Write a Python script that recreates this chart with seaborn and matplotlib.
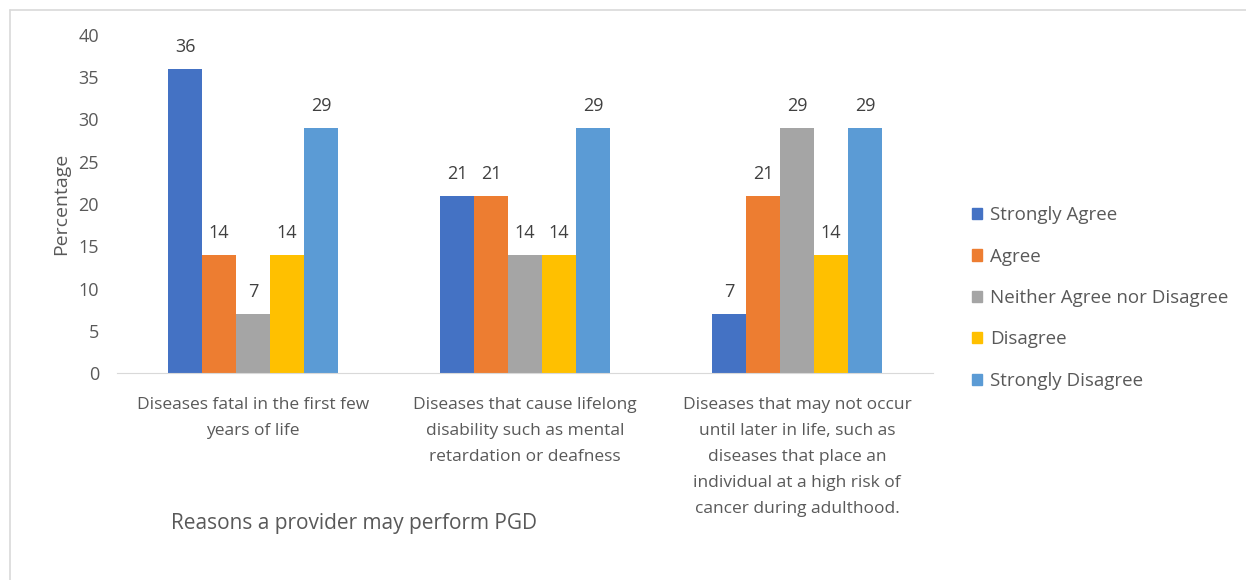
import matplotlib
matplotlib.use('Agg')
import matplotlib.pyplot as plt
import seaborn as sns
import pandas as pd
from matplotlib.lines import Line2D

# categories and answer levels
categories = [
    "Diseases fatal in the first few\nyears of life",
    "Diseases that cause lifelong\ndisability such as mental\nretardation or deafness",
    "Diseases that may not occur\nuntil later in life, such as\ndiseases that place an\nindividual at a high risk of\ncancer during adulthood.",
]
responses = ["Strongly Agree", "Agree", "Neither Agree nor Disagree", "Disagree", "Strongly Disagree"]
strongly_agree = [36, 21, 7]
agree = [14, 21, 21]
neither = [7, 14, 29]
disagree = [14, 14, 14]
strongly_disagree = [29, 29, 29]
colors = ["#4472C4", "#ED7D31", "#A5A5A5", "#FFC000", "#5B9BD5"]

series = [strongly_agree, agree, neither, disagree, strongly_disagree]
rows = []
for r, vals in zip(responses, series):
    for c, v in zip(categories, vals):
        rows.append({"cat": c, "resp": r, "pct": v})
df = pd.DataFrame(rows)

sns.set_style("white")
plt.rcParams['font.family'] = ['Open Sans', 'DejaVu Sans']
txt = "#595959"

fig = plt.figure(figsize=(12.46, 5.8), dpi=100)
ax = fig.add_axes([117 / 1246, 1 - 373 / 580, (933 - 117) / 1246, (373 - 35) / 580])

sns.barplot(data=df, x="cat", y="pct", hue="resp", order=categories, hue_order=responses,
            palette=colors, width=0.625, gap=0, saturation=1, linewidth=0, ax=ax, legend=False)

for cont in ax.containers:
    ax.bar_label(cont, padding=9, fontsize=13, color="#404040")

ax.set_ylim(0, 40)
ax.set_xlim(-0.5, 2.5)
ax.set_yticks(range(0, 41, 5))
ax.tick_params(axis='both', length=0, labelsize=12.5, colors=txt)
ax.tick_params(axis='y', labelsize=13, pad=13)
ax.tick_params(axis='x', pad=17)
for lab in ax.get_xticklabels():
    lab.set_linespacing(1.85)
ax.set_xlabel("")
ax.set_ylabel("Percentage", fontsize=14, color=txt, labelpad=6)
for s in ["top", "right", "left"]:
    ax.spines[s].set_visible(False)
ax.spines["bottom"].set_color("#D9D9D9")

fig.text(354 / 1246, 1 - 523 / 580, "Reasons a provider may perform PGD",
         ha='center', va='center', fontsize=15, color=txt)

handles = [plt.Rectangle((0, 0), 1, 1, color=c) for c in colors]
fig.legend(handles, responses, loc='center left', bbox_to_anchor=(955 / 1246, 1 - 298 / 580),
           frameon=False, fontsize=13.5, labelcolor=txt, handlelength=0.55, handleheight=0.55,
           handletextpad=0.4, labelspacing=1.25)

# chart area border (top and left visible)
fig.add_artist(Line2D([10 / 1246, 1], [1 - 10 / 580, 1 - 10 / 580], color="#D9D9D9", lw=1.2))
fig.add_artist(Line2D([10 / 1246, 10 / 1246], [0, 1 - 10 / 580], color="#D9D9D9", lw=1.2))

fig.savefig("out.png", dpi=100)
